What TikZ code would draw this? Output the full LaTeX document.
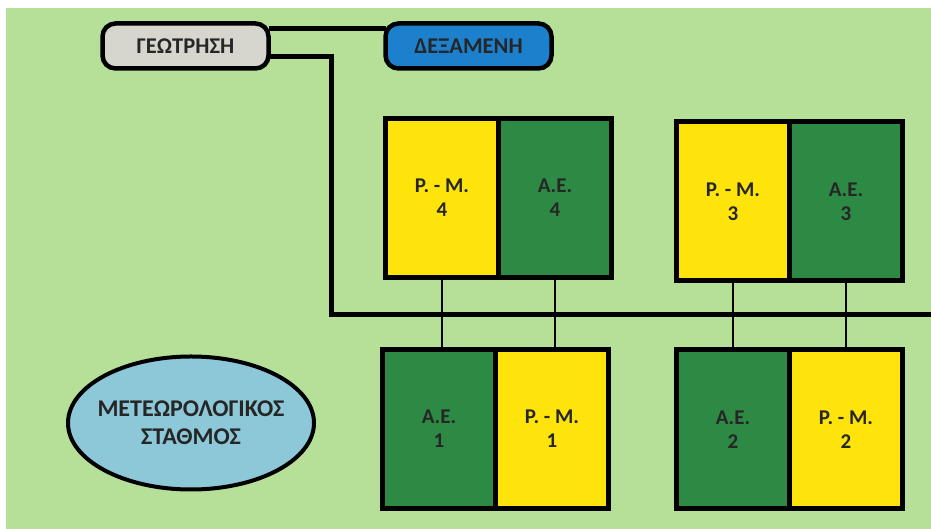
\documentclass[tikz,border=0pt]{standalone}
\usepackage{fontspec}
\setmainfont{Carlito}
\usepackage{xcolor}
\usepackage{tikz}
\usetikzlibrary{positioning,shapes.geometric,backgrounds}
\definecolor{paper}{RGB}{182,224,152}
\definecolor{sun}{RGB}{255,228,12}
\definecolor{leaf}{RGB}{44,138,68}
\definecolor{stone}{RGB}{214,214,206}
\definecolor{water}{RGB}{28,128,205}
\definecolor{sky}{RGB}{140,200,215}

\begin{document}
\begin{tikzpicture}[x=1pt, y=1pt, node distance=0pt,
  every node/.style={align=center, text=black!85},
  half/.style={draw=black, line width=5pt, outer sep=0pt, inner sep=0pt, minimum width=113pt, minimum height=159pt, font=\fontsize{21}{24}\selectfont\bfseries},
  pmbox/.style={half, fill=sun},
  aebox/.style={half, fill=leaf},
  tank/.style={draw=black, line width=4.5pt, rounded corners=13pt, outer sep=0pt, minimum width=166pt, minimum height=45pt, font=\fontsize{22.5}{26}\selectfont\bfseries},
  station/.style={ellipse, draw=black, line width=4pt, fill=sky, inner xsep=-30pt, inner ysep=0pt, minimum width=246pt, minimum height=133pt, font=\fontsize{24}{28}\selectfont\bfseries},
  bus/.style={line width=5pt},
  tap/.style={line width=2.5pt}]
  \useasboundingbox (0,0) rectangle (931,529);

  % top row
  \node[tank, fill=stone] (geo) at (185.5,483) {ΓΕΩΤΡΗΣΗ};
  \node[tank, fill=water] (dex) at (468.5,483) {ΔΕΞΑΜΕΝΗ};

  % unit pairs
  \node[pmbox] (pm4) at (442,331) {Ρ. - Μ.\\4};
  \node[aebox, right=of pm4] (ae4) {Α.Ε.\\4};
  \node[pmbox] (pm3) at (733,327.5) {Ρ. - Μ.\\3};
  \node[aebox, right=of pm3] (ae3) {Α.Ε.\\3};
  \node[aebox] (ae1) at (439,100) {Α.Ε.\\1};
  \node[pmbox, right=of ae1] (pm1) {Ρ. - Μ.\\1};
  \node[aebox] (ae2) at (733,99.5) {Α.Ε.\\2};
  \node[pmbox, right=of ae2] (pm2) {Ρ. - Μ.\\2};

  \node[station] (met) at (191,106) {ΜΕΤΕΩΡΟΛΟΓΙΚΟΣ\\ΣΤΑΘΜΟΣ};

  \coordinate (busturn) at (331,214);
  \coordinate (busend) at (931,214);

  \begin{scope}[on background layer]
    \fill[white] (0,0) rectangle (931,529);
    \fill[paper] (6,0) rectangle (931,521);
    \draw[bus] ([yshift=17pt]geo.east) -- ([yshift=17pt]geo.east -| dex.west);
    \draw[bus] ([yshift=-11pt]geo.east) -| (busturn) -- (busend);
    \draw[tap] (pm4.south) -- (pm4.south |- ae1.north);
    \draw[tap] (ae4.south) -- (ae4.south |- pm1.north);
    \draw[tap] (pm3.south) -- (pm3.south |- ae2.north);
    \draw[tap] (ae3.south) -- (ae3.south |- pm2.north);
  \end{scope}
\end{tikzpicture}
\end{document}
